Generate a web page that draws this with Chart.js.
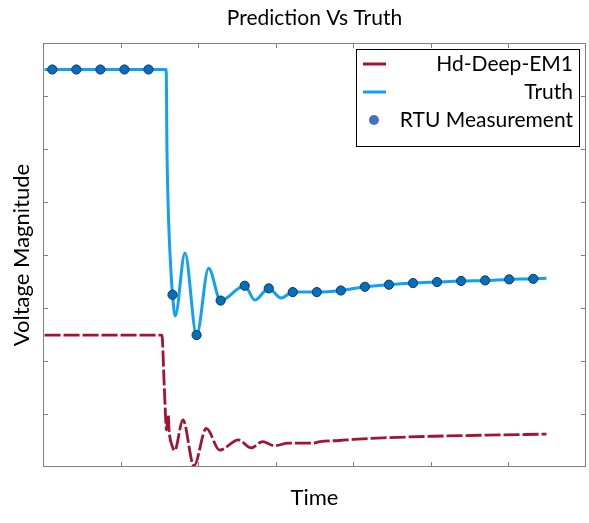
<!DOCTYPE html>
<html>
<head>
<meta charset="utf-8">
<script src="https://cdn.jsdelivr.net/npm/chart.js@4/dist/chart.umd.min.js"></script>
<style>
  html, body { margin: 0; padding: 0; background: #fff; }
  canvas { display: block; }
</style>
</head>
<body>
<canvas id="c" width="589" height="523"></canvas>
<script>
// ---- data (axis units: x 0..700, y 0..800, ticks every 100) ----
const xTicks = [100, 200, 300, 400, 500, 600];
const yTicks = [100, 200, 300, 400, 500, 600, 700];

const truthX = [2, 158.8, 159.8, 162, 164.5, 167, 170.5, 183, 198, 213.5, 229, 260, 273, 291, 307, 322, 353, 384, 415, 446, 477, 508, 539, 570, 601, 632, 649];
const truthY = [750, 750, 600, 462, 381, 325, 285, 404, 249, 375, 314, 342, 315, 337, 319, 330, 330, 333, 340, 344, 347, 349, 351, 352, 354, 355, 356];

const rtuX = [12, 43, 74, 105, 136, 167, 198, 229, 260, 291, 322, 353, 384, 415, 446, 477, 508, 539, 570, 601, 632];
const rtuY = [750, 750, 750, 750, 750, 325, 249, 314, 342, 337, 330, 330, 333, 340, 344, 347, 349, 351, 352, 354, 355];

const predX = [2, 153.3, 156, 158, 159, 160.5, 161.5, 162.5, 166.5, 169.7, 180.4, 194.6, 210.6, 227.7, 252, 268.4, 283, 298.7, 315.9, 348, 357, 382.6, 400, 438.5, 503, 567.5, 649];
const predY = [249, 249, 164, 95, 70, 85, 98, 70, 40, 31, 89, 2, 73, 32, 51, 36, 48, 40, 45, 45, 48, 50, 52, 55, 58, 60, 62];

const FONT = 'Lato, "Open Sans", sans-serif';
const pts = (xs, ys) => xs.map((x, i) => ({x, y: ys[i]}));

// frame + inward ticks
const framePlugin = {
  id: 'frame',
  afterDatasetsDraw(chart) {
    const {ctx, chartArea: a, scales: {x, y}} = chart;
    ctx.save();
    ctx.strokeStyle = '#808080';
    ctx.lineWidth = 1;
    ctx.strokeRect(a.left + 0.5, a.top + 0.5, a.right - a.left - 1, a.bottom - a.top - 1);
    ctx.beginPath();
    const L = 5;
    xTicks.forEach(v => {
      const px = Math.round(x.getPixelForValue(v)) + 0.5;
      ctx.moveTo(px, a.bottom); ctx.lineTo(px, a.bottom - L);
      ctx.moveTo(px, a.top); ctx.lineTo(px, a.top + L);
    });
    yTicks.forEach(v => {
      const py = Math.round(y.getPixelForValue(v)) + 0.5;
      ctx.moveTo(a.left, py); ctx.lineTo(a.left + L, py);
      ctx.moveTo(a.right, py); ctx.lineTo(a.right - L, py);
    });
    ctx.stroke();
    ctx.restore();
  }
};

// legend box (right-aligned text, sample at left)
const legendPlugin = {
  id: 'boxLegend',
  afterDraw(chart) {
    const {ctx, chartArea: a} = chart;
    const right = a.right - 6, top = a.top + 6, w = 224, h = 98;
    const left = right - w;
    ctx.save();
    ctx.fillStyle = '#fff';
    ctx.fillRect(left, top, w, h);
    ctx.strokeStyle = '#000';
    ctx.lineWidth = 1;
    ctx.strokeRect(left + 0.5, top + 0.5, w - 1, h - 1);
    ctx.font = '21px ' + FONT;
    ctx.textAlign = 'right';
    ctx.textBaseline = 'middle';
    const rows = [15, 43, 71];
    chart.data.datasets.forEach((ds, i) => {
      const cy = top + rows[i];
      if (ds.legendMarker === 'dot') {
        ctx.beginPath();
        ctx.fillStyle = '#4472C4';
        ctx.arc(left + 18, cy, 5, 0, Math.PI * 2);
        ctx.fill();
      } else {
        ctx.beginPath();
        ctx.strokeStyle = ds.borderColor;
        ctx.lineWidth = 3;
        ctx.moveTo(left + 7, cy); ctx.lineTo(left + 30, cy);
        ctx.stroke();
      }
      ctx.fillStyle = '#000';
      ctx.fillText(ds.label, right - 7, cy);
    });
    ctx.restore();
  }
};

new Chart(document.getElementById('c'), {
  type: 'scatter',
  data: {
    datasets: [
      {
        label: 'Hd-Deep-EM1',
        data: pts(predX, predY),
        showLine: true,
        borderColor: '#A2142F',
        borderWidth: 2.8,
        borderDash: [16, 3],
        pointRadius: 0,
        cubicInterpolationMode: 'monotone',
        order: 3
      },
      {
        label: 'Truth',
        data: pts(truthX, truthY),
        showLine: true,
        borderColor: '#12A0F5',
        borderWidth: 3,
        pointRadius: 0,
        cubicInterpolationMode: 'monotone',
        order: 2
      },
      {
        label: 'RTU Measurement',
        legendMarker: 'dot',
        data: pts(rtuX, rtuY),
        showLine: false,
        pointRadius: 4.6,
        pointBackgroundColor: '#0070C0',
        pointBorderColor: '#1B3350',
        pointBorderWidth: 1,
        order: 1
      }
    ]
  },
  options: {
    responsive: false,
    animation: false,
    devicePixelRatio: 1,
    layout: { autoPadding: false, padding: { left: 0, right: 3, top: 0, bottom: 0 } },
    plugins: {
      legend: { display: false },
      tooltip: { enabled: false },
      title: {
        display: true,
        fullSize: false,
        text: 'Prediction Vs Truth',
        color: '#000',
        font: { family: FONT, size: 21, weight: 'normal', lineHeight: 1.2 },
        padding: { top: 6, bottom: 11.8 }
      }
    },
    scales: {
      x: {
        type: 'linear', min: 0, max: 700,
        grid: { display: false }, border: { display: false },
        ticks: { display: false },
        title: { display: true, text: 'Time', color: '#000',
                 font: { family: FONT, size: 22, lineHeight: 1.2 }, padding: { top: 0, bottom: 12 } },
        afterFit(s) { s.height = 56; }
      },
      y: {
        type: 'linear', min: 0, max: 800,
        grid: { display: false }, border: { display: false },
        ticks: { display: false },
        title: { display: true, text: 'Voltage Magnitude', color: '#000',
                 font: { family: FONT, size: 22, lineHeight: 1.2 }, padding: { top: 9, bottom: 0 } },
        afterFit(s) { s.width = 43; }
      }
    }
  },
  plugins: [framePlugin, legendPlugin]
});
</script>
</body>
</html>
